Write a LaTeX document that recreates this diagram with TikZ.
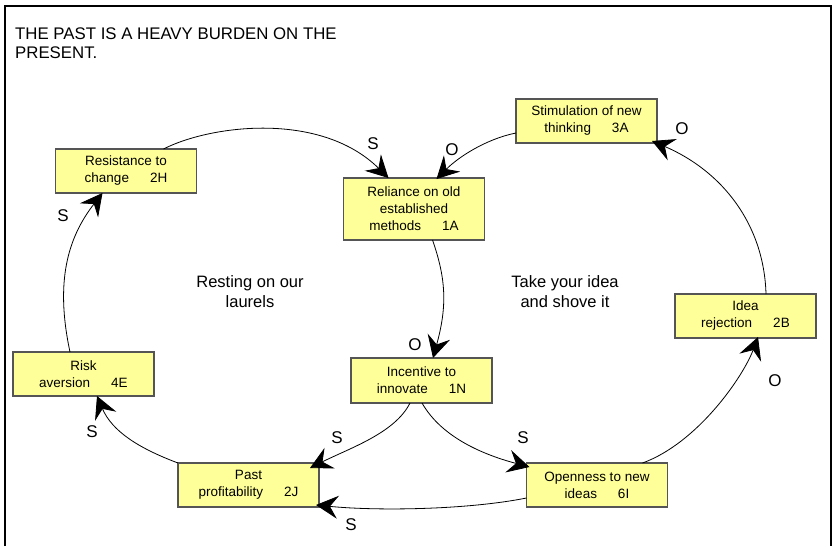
\documentclass[tikz,border=0pt]{standalone}
\usepackage{fontspec}
\setmainfont{Liberation Sans}
\usetikzlibrary{arrows.meta,calc}

\definecolor{boxfill}{RGB}{255,255,153}
\definecolor{boxline}{RGB}{85,85,85}

\tikzset{
  varbox/.style={draw=boxline, fill=boxfill, line width=1.3pt,
    minimum width=141pt, minimum height=44pt, inner sep=0pt, outer sep=0pt,
    align=center, font=\fontsize{13.5}{17}\selectfont},
  link/.style={line width=0.8pt, -{Stealth[length=22pt,width=23pt,inset=8pt]}},
  polarity/.style={font=\fontsize{17}{17}\selectfont, inner sep=0pt},
  loopname/.style={align=center, font=\fontsize{16.5}{20}\selectfont, inner sep=0pt},
}

\newcommand{\gapp}{\hspace{21pt}}

\begin{document}
\begin{tikzpicture}[x=1pt, y=-1pt]
  \useasboundingbox (0,0) rectangle (835,546);

  % frame
  \draw[line width=1.5pt] (5,546) -- (5,6) -- (831,6) -- (831,546);

  % heading
  \node[anchor=north west, inner sep=0pt, align=left,
        font=\fontsize{16.8}{19}\selectfont] (title) at (15,27.5)
    {THE PAST IS A HEAVY BURDEN ON THE\\PRESENT.};

  % variables
  \node[varbox] (h)  at (126,171)   {Resistance to\\change\gapp 2H};
  \node[varbox, minimum height=62pt] (a1) at (414,209)
    {Reliance on old\\established\\methods\gapp 1A};
  \node[varbox] (a3) at (586.5,121) {Stimulation of new\\thinking\gapp 3A};
  \node[varbox] (b)  at (745.5,316) {Idea\\rejection\gapp 2B};
  \node[varbox] (i)  at (597,485)   {Openness to new\\ideas\gapp 6I};
  \node[varbox, minimum height=45pt] (n) at (421.5,380.5)
    {Incentive to\\innovate\gapp 1N};
  \node[varbox] (e)  at (83.5,374)  {Risk\\aversion\gapp 4E};
  \node[varbox] (j)  at (248.5,485) {Past\\profitability\gapp 2J};

  % loop names
  \node[loopname] (loopL) at (250,292) {Resting on our\\laurels};
  \node[loopname] (loopR) at (565,292) {Take your idea\\and shove it};

  % causal links
  \draw[link] ($(h.north west)+(108,0)$) .. controls +(47,-24) and +(-68,-67) .. ($(a1.north west)+(45,0)$);
  \draw[link] ($(a3.north west)+(0,34)$) .. controls +(-30,6) and +(22,-22) .. ($(a1.north west)+(93,1)$);
  \draw[link] ($(a1.north west)+(89,62)$) .. controls +(14,40) and +(14,-51) .. ($(n.north west)+(82,0)$);
  \draw[link] ($(n.north west)+(59,45)$) .. controls +(-15,30) and +(40,-20) .. ($(j.north west)+(132,5)$);
  \draw[link] ($(n.north west)+(71,45)$) .. controls +(20,35) and +(-45,-12) .. ($(i.north west)+(3,4)$);
  \draw[link] ($(i.north west)+(0,35)$) .. controls +(-60,12) and +(60,6) .. ($(j.north west)+(138,42)$);
  \draw[link] ($(i.north west)+(116,0)$) .. controls +(55,-20) and +(-15,40) .. ($(b.north west)+(83,43)$);
  \draw[link] ($(b.north west)+(91,0)$) .. controls +(-2,-70) and +(70,30) .. ($(a3.north west)+(136,42)$);
  \draw[link] (j.north west) .. controls +(-40,-15) and +(15,35) .. ($(e.north west)+(84,44)$);
  \draw[link] ($(e.north west)+(57,0)$) .. controls +(-15,-70) and +(-35,45) .. ($(h.north west)+(47,44)$);

  % polarities
  \node[polarity] (p1)  at (373,144) {S};
  \node[polarity] (p2)  at (452,150) {O};
  \node[polarity] (p3)  at (415,345) {O};
  \node[polarity] (p4)  at (337,438) {S};
  \node[polarity] (p5)  at (523,438) {S};
  \node[polarity] (p6)  at (351,525) {S};
  \node[polarity] (p7)  at (775,381) {O};
  \node[polarity] (p8)  at (682,129) {O};
  \node[polarity] (p9)  at (92,432)  {S};
  \node[polarity] (p10) at (63,216)  {S};
\end{tikzpicture}
\end{document}
